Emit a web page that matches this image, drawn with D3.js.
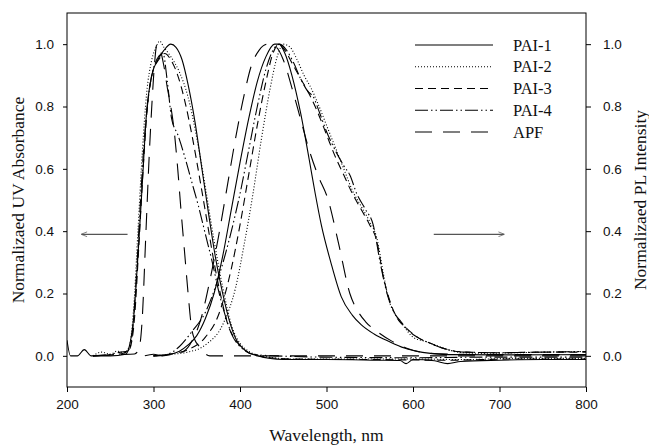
<!DOCTYPE html>
<html>
<head>
<meta charset="utf-8">
<script src="https://cdn.jsdelivr.net/npm/d3@7"></script>
<style>
  body { margin: 0; background: #fff; }
  svg { display: block; }
  .tick text { font-family: "Liberation Sans", Arial, sans-serif; font-size: 13.5px; fill: #111; }
  .title { font-family: "Liberation Serif", "Times New Roman", serif; font-size: 17.5px; fill: #111; }
  .legend text { font-family: "Liberation Serif", "Times New Roman", serif; font-size: 16.5px; fill: #111; }
</style>
</head>
<body>
<div id="chart"></div>
<script>
// ---- data ----
var seriesNames = ["PAI-1", "PAI-2", "PAI-3", "PAI-4", "APF"];
var xTicks = [200, 300, 400, 500, 600, 700, 800];
var yTicks = [0.0, 0.2, 0.4, 0.6, 0.8, 1.0];

// UV absorbance, [wavelength nm, normalized value]
var pai1Uv = [[200,0.05],[204,0.0],[212,0.0],[220,0.02],[228,0.0],[250,0.0],[268,0.005],[272,0.03],[277,0.12],[282,0.32],[287,0.55],[292,0.78],[298,0.9],[305,0.95],[312,0.98],[320,1.0],[326,0.99],[333,0.95],[340,0.87],[348,0.75],[356,0.6],[364,0.45],[372,0.31],[380,0.2],[388,0.11],[396,0.05],[405,0.02],[420,0.0],[450,-0.012],[500,-0.012],[560,-0.014],[585,-0.015],[592,-0.025],[600,-0.012],[625,-0.016],[640,-0.025],[655,-0.018],[700,-0.014],[750,-0.012],[800,-0.012]];
var pai2Uv = [[230,0.0],[240,0.012],[250,0.005],[258,0.015],[266,0.01],[272,0.03],[277,0.15],[282,0.4],[287,0.65],[292,0.84],[298,0.95],[303,0.99],[307,1.01],[312,0.99],[320,0.96],[330,0.91],[340,0.83],[350,0.7],[360,0.54],[370,0.37],[380,0.22],[390,0.1],[400,0.04],[410,0.015],[425,0.0],[460,-0.01],[520,-0.01],[600,-0.01],[660,-0.012],[720,-0.008],[800,-0.008]];
var pai3Uv = [[230,0.0],[250,0.003],[265,0.008],[272,0.02],[278,0.12],[283,0.35],[288,0.6],[293,0.8],[299,0.91],[306,0.95],[313,0.97],[320,0.95],[328,0.9],[336,0.82],[345,0.7],[354,0.56],[362,0.43],[370,0.3],[378,0.19],[386,0.1],[395,0.05],[405,0.02],[420,0.0],[460,-0.01],[560,-0.012],[640,-0.014],[720,-0.01],[800,-0.01]];
var pai4Uv = [[230,0.0],[250,0.005],[262,0.012],[270,0.015],[274,0.04],[279,0.2],[284,0.45],[289,0.68],[295,0.85],[302,0.94],[311,0.97],[316,0.88],[321,0.76],[328,0.71],[336,0.64],[344,0.56],[352,0.48],[360,0.39],[368,0.3],[376,0.2],[384,0.12],[392,0.06],[402,0.025],[415,0.005],[440,0.0],[520,-0.005],[600,-0.006],[700,-0.004],[800,-0.004]];
var apfUv = [[230,0.0],[260,0.004],[278,0.006],[283,0.02],[287,0.12],[291,0.38],[295,0.64],[298,0.8],[301,0.93],[304,1.0],[308,0.98],[312,0.93],[316,0.86],[320,0.8],[324,0.72],[328,0.6],[332,0.46],[336,0.33],[340,0.2],[344,0.09],[348,0.05],[353,0.03],[358,0.012],[365,0.0],[450,0.0],[600,0.0],[800,0.0]];

// photoluminescence, [wavelength nm, normalized value]
var pai1Pl = [[290,0.0],[300,0.005],[310,0.0],[320,0.005],[330,0.015],[340,0.035],[350,0.065],[360,0.12],[370,0.2],[380,0.32],[390,0.47],[400,0.62],[410,0.76],[420,0.88],[430,0.96],[440,1.0],[445,1.0],[452,0.97],[460,0.9],[470,0.78],[480,0.63],[487,0.52],[494,0.42],[505,0.3],[517,0.19],[530,0.13],[540,0.1],[555,0.07],[573,0.045],[590,0.025],[611,0.011],[640,0.004],[700,0.003],[800,0.004]];
var pai2Pl = [[300,0.0],[320,0.005],[340,0.012],[360,0.035],[380,0.1],[395,0.22],[405,0.36],[415,0.52],[425,0.7],[435,0.86],[443,0.96],[450,1.0],[458,0.99],[466,0.95],[474,0.9],[482,0.86],[490,0.81],[500,0.74],[510,0.67],[520,0.6],[530,0.53],[540,0.48],[550,0.43],[558,0.38],[566,0.26],[572,0.18],[580,0.13],[588,0.1],[600,0.06],[616,0.045],[635,0.025],[654,0.011],[680,0.008],[720,0.01],[760,0.012],[800,0.014]];
var pai3Pl = [[300,0.0],[320,0.006],[340,0.02],[360,0.06],[375,0.13],[390,0.28],[400,0.42],[410,0.58],[420,0.74],[430,0.88],[438,0.97],[445,1.0],[452,0.98],[460,0.94],[470,0.89],[480,0.84],[490,0.78],[500,0.71],[510,0.64],[520,0.58],[530,0.52],[540,0.47],[550,0.42],[558,0.37],[566,0.25],[574,0.17],[582,0.12],[592,0.09],[605,0.06],[620,0.04],[640,0.02],[660,0.012],[700,0.01],[750,0.012],[800,0.012]];
var pai4Pl = [[300,0.0],[315,0.004],[330,0.03],[345,0.08],[360,0.14],[375,0.25],[390,0.4],[400,0.52],[410,0.66],[420,0.8],[430,0.92],[438,0.98],[446,1.0],[454,0.98],[462,0.94],[470,0.89],[478,0.85],[485,0.83],[492,0.78],[500,0.72],[510,0.66],[520,0.61],[527,0.58],[535,0.52],[545,0.47],[554,0.42],[562,0.3],[570,0.2],[578,0.14],[586,0.11],[595,0.08],[605,0.06],[620,0.04],[640,0.02],[660,0.012],[700,0.01],[750,0.012],[800,0.014]];
var apfPl = [[300,0.0],[320,0.004],[335,0.015],[345,0.05],[355,0.12],[365,0.24],[375,0.38],[385,0.54],[395,0.7],[405,0.84],[413,0.93],[422,0.98],[432,1.0],[442,0.99],[450,0.95],[460,0.86],[470,0.76],[480,0.66],[490,0.58],[502,0.5],[514,0.36],[527,0.2],[537,0.14],[545,0.11],[560,0.075],[575,0.048],[592,0.025],[611,0.011],[640,0.006],[700,0.004],[800,0.004]];

var uvData = [pai1Uv, pai2Uv, pai3Uv, pai4Uv, apfUv];
var plData = [pai1Pl, pai2Pl, pai3Pl, pai4Pl, apfPl];
var dashes = ["none", "1,2", "8,5", "13,3,1.5,3,1.5,3", "17,11"];

// ---- layout ----
var width = 649, height = 447;
var margin = {top: 13, right: 63, bottom: 60, left: 67};

var svg = d3.select("#chart").append("svg")
    .attr("width", width)
    .attr("height", height);

var x = d3.scaleLinear().domain([200, 800]).range([margin.left, width - margin.right]);
var y = d3.scaleLinear().domain([-0.1, 1.1]).range([height - margin.bottom, margin.top]);

// frame
svg.append("rect")
    .attr("x", x(200)).attr("y", y(1.1))
    .attr("width", x(800) - x(200)).attr("height", y(-0.1) - y(1.1))
    .attr("fill", "none").attr("stroke", "#000").attr("stroke-width", 1);

var xAxis = svg.append("g")
    .attr("transform", "translate(0," + y(-0.1) + ")")
    .call(d3.axisBottom(x).tickValues(xTicks).tickSize(5).tickPadding(7).tickFormat(d3.format("d")));

var yAxisL = svg.append("g")
    .attr("transform", "translate(" + x(200) + ",0)")
    .call(d3.axisLeft(y).tickValues(yTicks).tickSize(4).tickPadding(9).tickFormat(d3.format(".1f")));

var yAxisR = svg.append("g")
    .attr("transform", "translate(" + x(800) + ",0)")
    .call(d3.axisRight(y).tickValues(yTicks).tickSize(5).tickPadding(12).tickFormat(d3.format(".1f")));

svg.selectAll(".domain").remove();
svg.selectAll(".tick line").attr("stroke", "#000");

// curves
var line = d3.line()
    .x(function(d) { return x(d[0]); })
    .y(function(d) { return y(d[1]); })
    .curve(d3.curveMonotoneX);

var clip = svg.append("clipPath").attr("id", "plotclip")
    .append("rect")
    .attr("x", x(200)).attr("y", y(1.1))
    .attr("width", x(800) - x(200)).attr("height", y(-0.1) - y(1.1));

var plot = svg.append("g").attr("clip-path", "url(#plotclip)");

seriesNames.forEach(function(name, i) {
    [uvData[i], plData[i]].forEach(function(arr) {
        plot.append("path")
            .datum(arr)
            .attr("d", line)
            .attr("fill", "none")
            .attr("stroke", "#000")
            .attr("stroke-width", 1.1)
            .attr("stroke-dasharray", dashes[i]);
    });
});

// arrows pointing at each axis
var defs = svg.append("defs");
defs.append("marker")
    .attr("id", "head")
    .attr("viewBox", "0 0 10 10")
    .attr("refX", 9).attr("refY", 5)
    .attr("markerWidth", 9).attr("markerHeight", 6)
    .attr("markerUnits", "userSpaceOnUse")
    .attr("orient", "auto")
    .append("path")
    .attr("d", "M0,1 L10,5 L0,9")
    .attr("fill", "none")
    .attr("stroke", "#555")
    .attr("stroke-width", 1.2);

svg.append("line")
    .attr("x1", x(270)).attr("y1", y(0.39))
    .attr("x2", x(217)).attr("y2", y(0.39))
    .attr("stroke", "#555").attr("stroke-width", 1.2)
    .attr("marker-end", "url(#head)");

svg.append("line")
    .attr("x1", x(624)).attr("y1", y(0.39))
    .attr("x2", x(705)).attr("y2", y(0.39))
    .attr("stroke", "#555").attr("stroke-width", 1.2)
    .attr("marker-end", "url(#head)");

// legend
var legend = svg.append("g").attr("class", "legend");
seriesNames.forEach(function(name, i) {
    var ly = 45 + i * 21.75;
    legend.append("line")
        .attr("x1", 415).attr("x2", 493)
        .attr("y1", ly).attr("y2", ly)
        .attr("stroke", "#000").attr("stroke-width", 1.1)
        .attr("stroke-dasharray", dashes[i]);
    legend.append("text")
        .attr("x", 513).attr("y", ly + 5.5)
        .text(name);
});

// axis titles
svg.append("text")
    .attr("class", "title")
    .attr("x", (x(200) + x(800)) / 2)
    .attr("y", 441)
    .attr("text-anchor", "middle")
    .text("Wavelength, nm");

svg.append("text")
    .attr("class", "title")
    .attr("transform", "translate(24," + y(0.5) + ") rotate(-90)")
    .attr("text-anchor", "middle")
    .text("Normalizaed UV Absorbance");

svg.append("text")
    .attr("class", "title")
    .attr("transform", "translate(646," + y(0.5) + ") rotate(-90)")
    .attr("text-anchor", "middle")
    .text("Normalizaed PL Intensity");
</script>
</body>
</html>
